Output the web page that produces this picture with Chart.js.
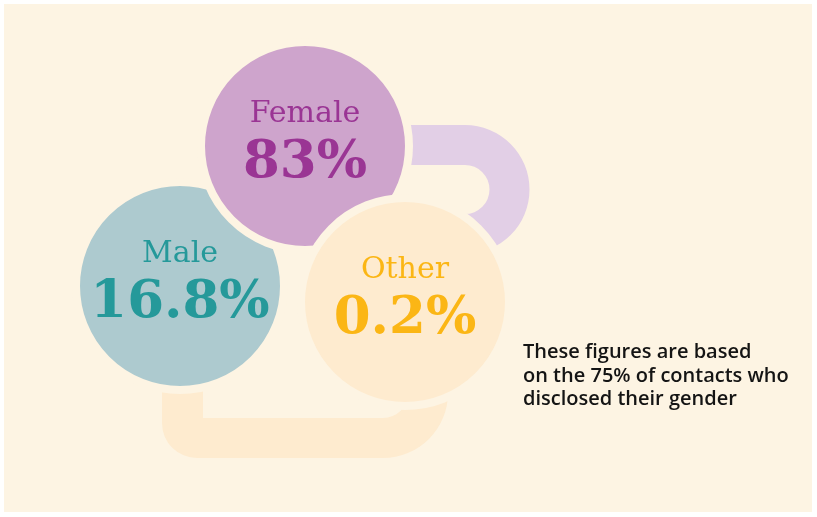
<!DOCTYPE html>
<html lang="en">
<head>
  <meta charset="UTF-8" />
  <title>Gender of contacts</title>
  <script src="https://cdn.jsdelivr.net/npm/chart.js"></script>
  <style>
    body { margin: 0; background: #ffffff; }
    #wrap { width: 817px; height: 517px; }
  </style>
</head>
<body>
  <div id="wrap"><canvas id="gender" width="817" height="517"></canvas></div>

  <script>
    // Data
    const categories = ['Male', 'Female', 'Other'];
    const shares = [16.8, 83, 0.2];
    const note = ['These figures are based', 'on the 75% of contacts who', 'disclosed their gender'];

    // Layout (bubble centres in canvas units) and styles
    const centreX = [180, 305, 405];
    const centreY = [286, 146, 302];
    const bubbleR = 104;
    const fills = ['#adcacf', '#cea4cc', '#feebcf'];
    const inks = ['#25999a', '#9a3594', '#fbb615'];
    const panel = '#fdf4e3';

    const fmt = v => v + '%';

    // connectors + panel behind the bubbles
    const backdrop = {
      id: 'backdrop',
      beforeDraw(chart) {
        const c = chart.ctx;
        c.save();
        c.fillStyle = '#ffffff';
        c.fillRect(0, 0, chart.width, chart.height);
        c.fillStyle = panel;
        c.fillRect(4, 4, chart.width - 9, chart.height - 9);
        c.restore();
      },
      beforeDatasetsDraw(chart) {
        const c = chart.ctx, x = chart.scales.x, y = chart.scales.y;
        const px = v => x.getPixelForValue(v), py = v => y.getPixelForValue(v);
        c.save();
        // lilac hook off the Female bubble
        c.fillStyle = '#e2cfe6';
        c.beginPath();
        c.moveTo(px(400), py(125));
        c.lineTo(px(465), py(125));
        c.arc(px(465), py(189.5), 64.5, -Math.PI / 2, Math.PI / 2);
        c.lineTo(px(465), py(214));
        c.arc(px(465), py(189.5), 24.5, Math.PI / 2, -Math.PI / 2, true);
        c.lineTo(px(400), py(165));
        c.closePath();
        c.fill();
        // cream tray under Male and Other
        c.fillStyle = '#feebcf';
        c.beginPath();
        c.moveTo(px(162), py(360));
        c.lineTo(px(162), py(423));
        c.arc(px(197), py(423), 35, Math.PI, Math.PI / 2, true);
        c.lineTo(px(383), py(458));
        c.arc(px(383), py(393), 65, Math.PI / 2, 0, true);
        c.lineTo(px(448), py(370));
        c.lineTo(px(408), py(370));
        c.lineTo(px(408), py(393));
        c.arc(px(383), py(393), 25, 0, Math.PI / 2, false);
        c.lineTo(px(203), py(418));
        c.lineTo(px(203), py(360));
        c.closePath();
        c.fill();
        c.restore();
      },
      afterDatasetsDraw(chart) {
        const c = chart.ctx;
        const meta = chart.getDatasetMeta(0);
        c.save();
        c.textAlign = 'center';
        c.textBaseline = 'alphabetic';
        meta.data.forEach((el, i) => {
          c.fillStyle = inks[i];
          c.font = '30px "DejaVu Serif"';
          c.fillText(categories[i], el.x, el.y - 24);
          c.font = 'bold 53px "DejaVu Serif"';
          c.fillText(fmt(shares[i]), el.x, el.y + 31);
        });
        c.fillStyle = '#141414';
        c.textAlign = 'left';
        c.font = '600 20px "Open Sans"';
        note.forEach((line, i) => c.fillText(line, 523, 358 + i * 23.5));
        c.restore();
      }
    };

    new Chart(document.getElementById('gender'), {
      type: 'bubble',
      data: {
        datasets: [{
          label: 'Share of contacts',
          data: categories.map((k, i) => ({ x: centreX[i], y: centreY[i], r: bubbleR, v: shares[i] })),
          backgroundColor: fills,
          borderColor: panel,
          borderWidth: 8,
          hoverRadius: 0,
          clip: false
        }]
      },
      options: {
        responsive: false,
        animation: false,
        events: [],
        layout: { padding: 0, autoPadding: false },
        plugins: { legend: { display: false }, tooltip: { enabled: false } },
        scales: {
          x: { type: 'linear', min: 0, max: 817, display: false },
          y: { type: 'linear', min: 0, max: 517, reverse: true, display: false }
        }
      },
      plugins: [backdrop]
    });
  </script>
</body>
</html>
